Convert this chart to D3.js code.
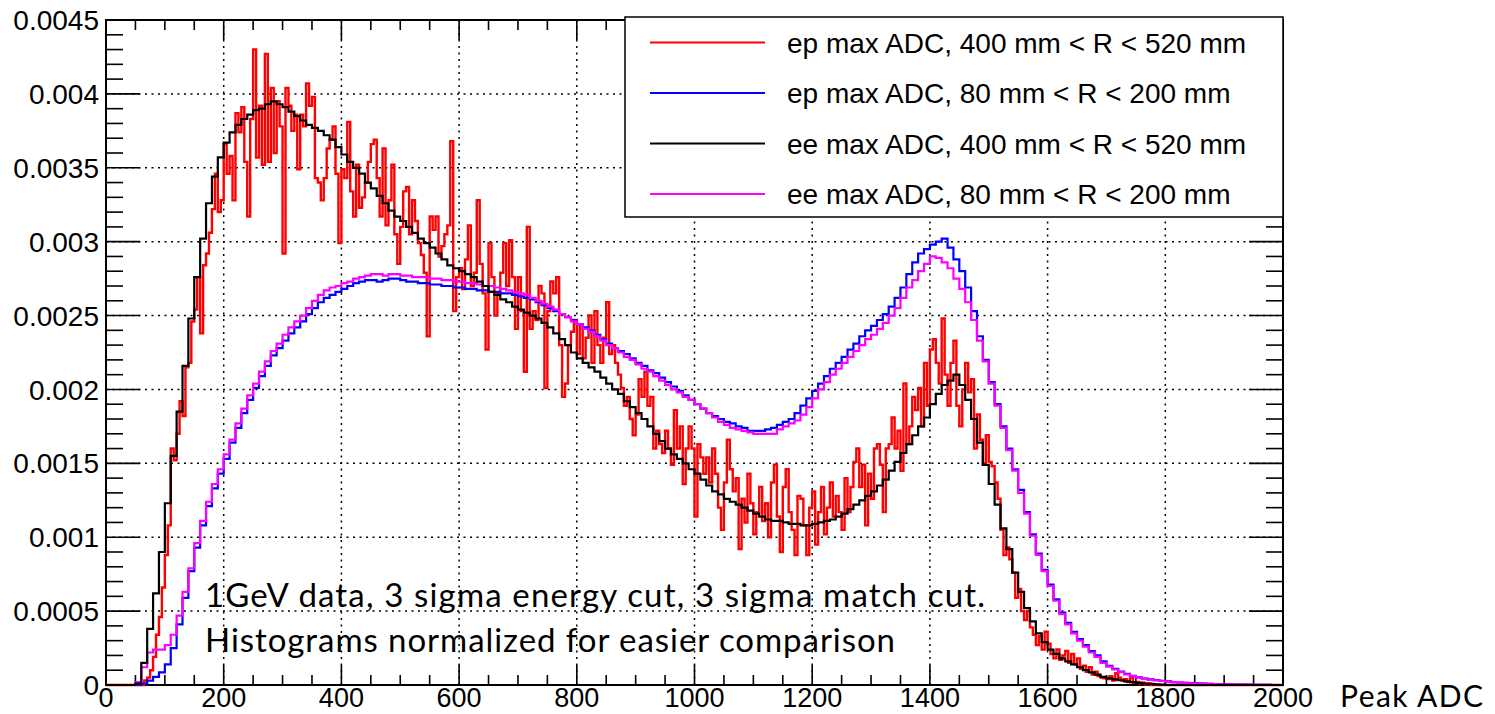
<!DOCTYPE html>
<html>
<head>
<meta charset="utf-8">
<script src="https://cdn.jsdelivr.net/npm/d3@7"></script>
<style>
  html, body { margin: 0; padding: 0; background: #fff; }
  svg { display: block; }
</style>
</head>
<body>
<svg id="chart" width="1495" height="714"></svg>
<script>
// Histogram contents are stored in units of 1e-4 (normalized counts per bin).
const UNIT = 1e-4;

// ep, 400 mm < R < 520 mm : 5 ADC bins starting at 60
const epOuterStart = 60, epOuterWidth = 5;
const epOuter = [
  0, 0.3, 0.5, 1.0, 1.9, 3.4, 4.6, 6.6, 8.8, 10.8,
  16.0, 15.2, 17.0, 19.2, 18.2, 21.5, 21.8, 24.6, 25.4, 27.6,
  23.8, 28.4, 29.2, 30.6, 32.2, 34.6, 32.0, 32.8, 36.6, 34.6,
  35.8, 32.8, 38.7, 37.4, 39.1, 35.4, 31.7, 38.3, 43.0, 35.7,
  39.2, 35.2, 42.7, 35.4, 40.4, 36.0, 39.5, 37.8, 29.2, 40.4,
  39.2, 37.5, 38.6, 34.9, 38.6, 37.8, 40.7, 39.2, 39.8, 34.3,
  34.0, 32.8, 34.3, 36.3, 36.9, 37.8, 34.6, 29.9, 34.9, 34.3,
  38.1, 33.4, 31.7, 35.2, 32.3, 33.0, 34.0, 35.4, 36.6, 36.9,
  34.3, 31.7, 36.3, 31.1, 32.8, 35.2, 30.5, 28.5, 31.0, 33.4,
  33.7, 30.5, 32.8, 31.4, 29.9, 29.1, 27.9, 23.6, 31.7, 30.8,
  31.7, 29.0, 29.7, 30.5, 31.1, 36.8, 25.3, 27.6, 28.2, 26.8,
  28.8, 31.1, 27.0, 27.9, 32.8, 28.5, 26.5, 22.7, 29.9, 27.6,
  25.0, 26.5, 27.9, 29.9, 27.0, 30.1, 27.6, 24.1, 27.6, 25.3,
  21.2, 31.0, 24.1, 25.3, 24.7, 27.0, 26.5, 20.1, 25.3, 27.3,
  26.5, 27.6, 23.0, 19.5, 20.4, 23.0, 23.9, 24.7, 22.4, 24.4,
  22.1, 23.5, 25.0, 21.8, 25.3, 23.0, 21.8, 23.5, 25.9, 22.4,
  23.0, 21.8, 21.0, 20.1, 18.9, 19.5, 18.0, 16.9, 18.3, 20.7,
  19.5, 21.2, 18.9, 19.5, 16.0, 17.2, 16.3, 15.7, 17.2, 16.0,
  14.9, 18.6, 16.0, 17.5, 13.6, 16.0, 17.5, 16.0, 11.4, 16.3,
  15.4, 14.3, 15.4, 13.7, 16.0, 14.3, 12.0, 10.5, 13.7, 16.6,
  14.6, 13.1, 14.0, 9.2, 12.6, 11.0, 14.3, 12.3, 10.2, 11.7,
  13.4, 11.1, 12.3, 10.0, 13.7, 14.9, 11.4, 9.0, 13.4, 14.6,
  11.7, 10.5, 8.8, 12.8, 12.6, 10.8, 8.8, 12.0, 13.1, 9.5,
  11.7, 13.4, 10.2, 12.0, 13.7, 11.4, 12.8, 11.7, 10.5, 14.0,
  11.7, 13.4, 15.1, 16.0, 13.4, 14.9, 10.8, 14.3, 12.6, 16.0,
  16.3, 14.9, 11.7, 16.0, 16.3, 18.1, 16.0, 17.2, 14.5, 20.4,
  16.3, 17.5, 19.5, 18.6, 20.1, 17.5, 21.8, 18.9, 22.7, 23.4,
  21.8, 20.4, 24.8, 21.0, 18.9, 21.8, 23.3, 18.9, 17.5, 20.0,
  21.8, 19.8, 20.7, 16.0, 18.3, 16.6, 14.9, 16.9, 15.1, 14.8,
  13.7, 12.6, 10.5, 8.8, 9.3, 8.5, 7.6, 5.9, 6.5, 5.0,
  4.4, 5.0, 3.9, 3.4, 2.7, 3.3, 2.4, 3.6, 2.8, 2.1,
  1.8, 2.4, 1.7, 2.0, 2.3, 1.5, 2.1, 1.4, 1.8, 1.1,
  1.3, 0.9, 1.2, 0.7, 0.9, 0.6, 0.5, 0.45, 0.4, 0.6,
  0.3, 0.8, 0.5, 0.3, 0.4, 0.2, 0.5, 0.15, 0.2, 0.1,
  0.15, 0.05, 0.1, 0, 0.05, 0
];

// ep, 80 mm < R < 200 mm : 10 ADC bins starting at 50
const epInnerStart = 50, epInnerWidth = 10;
const epInner = [
  0, 0.1, 0.3, 0.55, 0.85, 1.4, 2.5, 4.1, 5.9, 7.7,
  9.3, 10.8, 12.1, 13.3, 14.3, 15.3, 16.4, 17.4, 18.4, 19.3,
  20.1, 20.9, 21.6, 22.3, 22.8, 23.3, 23.8, 24.2, 24.6, 25.1,
  25.5, 25.9, 26.2, 26.4, 26.6, 26.8, 27.0, 27.2, 27.3, 27.4,
  27.4, 27.3, 27.4, 27.5, 27.5, 27.4, 27.3, 27.3, 27.2, 27.2,
  27.1, 27.1, 27.0, 27.0, 26.9, 26.9, 26.8, 26.8, 26.7, 26.7,
  26.6, 26.6, 26.5, 26.5, 26.4, 26.3, 26.2, 26.1, 25.9, 25.7,
  25.5, 25.3, 25.1, 24.9, 24.7, 24.4, 24.2, 24.0, 23.7, 23.4,
  23.1, 22.8, 22.6, 22.4, 22.1, 21.8, 21.6, 21.3, 21.1, 20.8,
  20.5, 20.2, 19.9, 19.6, 19.3, 19.0, 18.7, 18.4, 18.2, 18.0,
  17.8, 17.7, 17.5, 17.4, 17.2, 17.2, 17.2, 17.3, 17.4, 17.6,
  17.8, 18.0, 18.4, 18.9, 19.4, 19.9, 20.4, 20.9, 21.4, 21.8,
  22.2, 22.7, 23.1, 23.6, 24.0, 24.3, 24.7, 25.1, 25.6, 26.2,
  26.9, 27.8, 28.6, 29.2, 29.5, 29.8, 30.0, 30.2, 29.6, 28.8,
  28.0, 26.9, 25.3, 23.6, 22.0, 20.5, 19.0, 17.5, 16.0, 14.6,
  13.2, 11.7, 10.2, 8.9, 7.8, 6.8, 5.8, 4.9, 4.2, 3.6,
  3.1, 2.7, 2.3, 2.0, 1.6, 1.3, 1.1, 0.9, 0.75, 0.62,
  0.52, 0.44, 0.38, 0.33, 0.28, 0.24, 0.2, 0.17, 0.15, 0.13,
  0.11, 0.09, 0.08, 0.06, 0.05, 0.04, 0.03, 0.03, 0.02, 0.02,
  0.01, 0.01, 0.01
];

// ee, 400 mm < R < 520 mm : 10 ADC bins starting at 50
const eeOuterStart = 50, eeOuterWidth = 10;
const eeOuter = [
  0.1, 1.5, 3.8, 6.2, 9.0, 12.3, 15.5, 18.5, 21.6, 24.8,
  27.6, 30.2, 32.6, 34.4, 35.7, 36.7, 37.4, 37.9, 38.3, 38.6,
  38.9, 39.0, 39.3, 39.5, 39.3, 39.1, 38.8, 38.5, 38.2, 37.9,
  37.7, 37.5, 37.2, 36.9, 36.4, 35.9, 35.4, 35.0, 34.6, 34.0,
  33.6, 33.1, 32.6, 32.1, 31.7, 31.4, 31.0, 30.6, 30.2, 29.9,
  29.6, 29.2, 28.8, 28.4, 28.2, 28.0, 27.8, 27.6, 27.3, 27.0,
  26.6, 26.4, 26.1, 25.9, 25.6, 25.4, 25.2, 25.0, 24.8, 24.5,
  24.2, 23.8, 23.4, 23.0, 22.5, 22.1, 21.8, 21.5, 21.2, 20.8,
  20.4, 20.0, 19.7, 19.2, 18.8, 18.4, 18.0, 17.5, 17.0, 16.5,
  16.0, 15.6, 15.3, 15.0, 14.6, 14.3, 13.9, 13.5, 13.1, 12.9,
  12.6, 12.4, 12.2, 12.0, 11.8, 11.6, 11.4, 11.2, 11.1, 11.1,
  11.0, 10.9, 10.9, 10.8, 10.8, 10.9, 11.0, 11.1, 11.2, 11.4,
  11.6, 11.9, 12.2, 12.5, 12.8, 13.1, 13.5, 13.9, 14.5, 15.1,
  15.7, 16.3, 16.9, 17.5, 18.1, 19.0, 19.7, 20.3, 20.6, 21.0,
  20.3, 19.3, 18.0, 16.4, 14.9, 13.6, 12.2, 10.6, 9.2, 7.6,
  6.3, 5.2, 4.3, 3.5, 2.9, 2.4, 2.1, 1.8, 1.6, 1.4,
  1.2, 1.0, 0.85, 0.7, 0.55, 0.45, 0.38, 0.32, 0.25, 0.2,
  0.15, 0.1, 0.07, 0.04, 0.02
];

// ee, 80 mm < R < 200 mm : 10 ADC bins starting at 50
const eeInnerStart = 50, eeInnerWidth = 10;
const eeInner = [
  0.2, 1.2, 2.2, 2.4, 2.4, 2.7, 3.4, 4.7, 6.3, 7.9,
  9.6, 11.1, 12.4, 13.6, 14.6, 15.6, 16.6, 17.7, 18.7, 19.6,
  20.4, 21.2, 21.9, 22.6, 23.1, 23.7, 24.2, 24.6, 25.0, 25.5,
  26.0, 26.4, 26.7, 26.9, 27.0, 27.2, 27.3, 27.5, 27.6, 27.7,
  27.8, 27.8, 27.7, 27.8, 27.8, 27.7, 27.7, 27.6, 27.6, 27.6,
  27.5, 27.5, 27.4, 27.4, 27.3, 27.3, 27.2, 27.2, 27.1, 27.0,
  27.0, 26.9, 26.8, 26.7, 26.6, 26.5, 26.4, 26.2, 26.0, 25.8,
  25.6, 25.4, 25.1, 24.9, 24.6, 24.4, 24.1, 23.9, 23.6, 23.3,
  23.0, 22.8, 22.5, 22.2, 22.0, 21.7, 21.4, 21.2, 20.9, 20.6,
  20.3, 20.0, 19.8, 19.5, 19.3, 19.0, 18.7, 18.4, 18.1, 17.8,
  17.6, 17.4, 17.3, 17.2, 17.1, 17.0, 17.0, 17.0, 17.0, 17.3,
  17.5, 17.7, 17.9, 18.3, 18.8, 19.4, 20.0, 20.5, 21.0, 21.4,
  21.8, 22.2, 22.6, 23.0, 23.4, 23.7, 24.1, 24.5, 25.0, 25.5,
  26.2, 26.9, 27.4, 28.0, 28.5, 29.0, 28.9, 28.6, 28.2, 27.5,
  26.8, 25.9, 24.7, 23.3, 21.9, 20.4, 18.9, 17.4, 15.9, 14.5,
  13.0, 11.6, 10.1, 8.8, 7.7, 6.7, 5.7, 4.8, 4.1, 3.5,
  3.0, 2.6, 2.2, 1.9, 1.5, 1.25, 1.05, 0.87, 0.72, 0.6,
  0.5, 0.43, 0.37, 0.32, 0.27, 0.23, 0.2, 0.17, 0.14, 0.12,
  0.1, 0.09, 0.07, 0.06, 0.05, 0.04, 0.03, 0.03, 0.02, 0.02,
  0.01, 0.01, 0.01
];

// Axis ticks and labels
const xTickValues = [0, 200, 400, 600, 800, 1000, 1200, 1400, 1600, 1800, 2000];
const xTickLabels = ["0", "200", "400", "600", "800", "1000", "1200", "1400", "1600", "1800", "2000"];
const yTickValues = [0, 0.0005, 0.001, 0.0015, 0.002, 0.0025, 0.003, 0.0035, 0.004, 0.0045];
const yTickLabels = ["0", "0.0005", "0.001", "0.0015", "0.002", "0.0025", "0.003", "0.0035", "0.004", "0.0045"];
const xMinorStep = 50, yMinorStep = 0.0001;

const legendLabels = [
  "ep max ADC, 400 mm < R < 520 mm",
  "ep max ADC, 80 mm < R < 200 mm",
  "ee max ADC, 400 mm < R < 520 mm",
  "ee max ADC, 80 mm < R < 200 mm"
];
const seriesColors = ["#ff0000", "#0000ff", "#000000", "#ff00ff"];
const noteLines = [
  "1GeV data, 3 sigma energy cut, 3 sigma match cut.",
  "Histograms normalized for easier comparison"
];
const xTitle = "Peak ADC";

const series = [
  { label: legendLabels[0], color: seriesColors[0], start: epOuterStart, width: epOuterWidth, values: epOuter, lw: 2.4 },
  { label: legendLabels[1], color: seriesColors[1], start: epInnerStart, width: epInnerWidth, values: epInner, lw: 2.2 },
  { label: legendLabels[2], color: seriesColors[2], start: eeOuterStart, width: eeOuterWidth, values: eeOuter, lw: 2.2 },
  { label: legendLabels[3], color: seriesColors[3], start: eeInnerStart, width: eeInnerWidth, values: eeInner, lw: 2.2 }
];
const drawOrder = [0, 1, 3, 2];

// ---- layout ----
const frame = { left: 106, right: 1283, top: 20, bottom: 685 };
const svg = d3.select("#chart");
const x = d3.scaleLinear().domain([0, 2000]).range([frame.left, frame.right]);
const y = d3.scaleLinear().domain([0, 0.0045]).range([frame.bottom, frame.top]);

const labelFont = "'Liberation Sans', Arial, Helvetica, sans-serif";
const noteFont = "Lato, 'Open Sans', sans-serif";

// dotted grid at major ticks
const grid = svg.append("g")
  .attr("stroke", "#000").attr("stroke-width", 1.5)
  .attr("stroke-dasharray", "2,4.5").attr("fill", "none");
grid.selectAll("line.gx").data(xTickValues.slice(1, -1)).join("line")
  .attr("class", "gx")
  .attr("x1", d => x(d)).attr("x2", d => x(d))
  .attr("y1", y(0)).attr("y2", y(0.0045));
grid.selectAll("line.gy").data(yTickValues.slice(1, -1)).join("line")
  .attr("class", "gy")
  .attr("x1", x(0)).attr("x2", x(2000))
  .attr("y1", d => y(d)).attr("y2", d => y(d));

// tick marks on all four sides
const ticks = svg.append("g").attr("stroke", "#000").attr("stroke-width", 1.6);
const xMinor = d3.range(0, 2000 + 1e-9, xMinorStep);
const yMinor = d3.range(0, 0.0045 + 1e-12, yMinorStep);
const isMajorX = v => Math.abs(v / 200 - Math.round(v / 200)) < 1e-6;
const isMajorY = v => Math.abs(v / 0.0005 - Math.round(v / 0.0005)) < 1e-6;
xMinor.forEach(v => {
  const len = isMajorX(v) ? 20 : 10;
  ticks.append("line").attr("x1", x(v)).attr("x2", x(v)).attr("y1", y(0)).attr("y2", y(0) - len);
  ticks.append("line").attr("x1", x(v)).attr("x2", x(v)).attr("y1", y(0.0045)).attr("y2", y(0.0045) + len);
});
yMinor.forEach(v => {
  const len = isMajorY(v) ? 34 : 17;
  ticks.append("line").attr("x1", x(0)).attr("x2", x(0) + len).attr("y1", y(v)).attr("y2", y(v));
  ticks.append("line").attr("x1", x(2000)).attr("x2", x(2000) - len).attr("y1", y(v)).attr("y2", y(v));
});

// frame
svg.append("rect")
  .attr("x", frame.left).attr("y", frame.top)
  .attr("width", frame.right - frame.left).attr("height", frame.bottom - frame.top)
  .attr("fill", "none").attr("stroke", "#000").attr("stroke-width", 2);

// tick labels
svg.append("g").selectAll("text").data(xTickValues).join("text")
  .attr("x", d => x(d)).attr("y", 707)
  .attr("text-anchor", "middle")
  .attr("font-family", labelFont).attr("font-size", 27)
  .text((d, i) => xTickLabels[i]);
svg.append("g").selectAll("text").data(yTickValues).join("text")
  .attr("x", frame.left - 7).attr("y", d => y(d))
  .attr("dy", "0.36em")
  .attr("text-anchor", "end")
  .attr("font-family", labelFont).attr("font-size", 28)
  .text((d, i) => yTickLabels[i]);

// axis title
svg.append("text")
  .attr("x", 1340).attr("y", 707)
  .attr("font-family", noteFont).attr("font-size", 30)
  .attr("textLength", 143).attr("lengthAdjust", "spacing")
  .text(xTitle);

// histograms
function binPoints(s) {
  const pts = [[0, 0]];
  s.values.forEach((v, i) => pts.push([s.start + i * s.width, v * UNIT]));
  pts.push([s.start + s.values.length * s.width, 0]);
  pts.push([2000, 0]);
  return pts;
}
const step = d3.line()
  .x(d => x(d[0])).y(d => y(d[1]))
  .curve(d3.curveStepAfter);
const hg = svg.append("g").attr("fill", "none");
drawOrder.forEach(k => {
  hg.append("path")
    .attr("d", step(binPoints(series[k])))
    .attr("stroke", series[k].color)
    .attr("stroke-width", series[k].lw)
    .attr("stroke-linejoin", "miter");
});

// annotation
const noteWidths = [780, 690];
svg.append("g").selectAll("text").data(noteLines).join("text")
  .attr("x", 205).attr("y", (d, i) => 607 + i * 45)
  .attr("font-family", noteFont).attr("font-size", 33)
  .attr("textLength", (d, i) => noteWidths[i]).attr("lengthAdjust", "spacing")
  .text(d => d);

// legend
const lg = svg.append("g");
lg.append("rect")
  .attr("x", 625).attr("y", 17).attr("width", 658).attr("height", 200)
  .attr("fill", "#fff").attr("stroke", "#000").attr("stroke-width", 1.5);
series.forEach((s, i) => {
  const cy = 42.5 + i * 50.5;
  lg.append("line").attr("x1", 650).attr("x2", 765).attr("y1", cy).attr("y2", cy)
    .attr("stroke", s.color).attr("stroke-width", 2);
  lg.append("text").attr("x", 787).attr("y", cy).attr("dy", "0.36em")
    .attr("font-family", labelFont).attr("font-size", 28)
    .text(s.label);
});
</script>
</body>
</html>
